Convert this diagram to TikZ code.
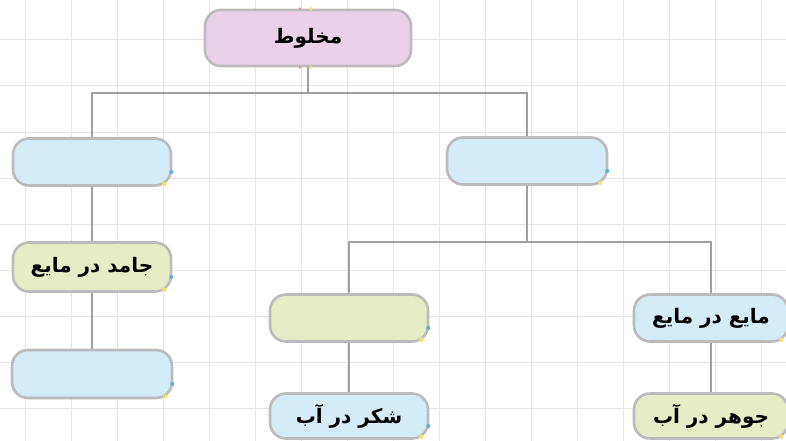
\documentclass[tikz,border=0pt]{standalone}
\usepackage{fontspec}
\usetikzlibrary{calc}
\newfontfamily\arabicfont[Script=Arabic]{DejaVu Sans}
\TeXXeTstate=1
\definecolor{boxpink}{HTML}{EBD1E8}
\definecolor{boxblue}{HTML}{D3ECF8}
\definecolor{boxgreen}{HTML}{E6EDC6}
\definecolor{boxrim}{HTML}{BBBBBB}
\definecolor{wire}{HTML}{A0A0A0}
\definecolor{gridgray}{HTML}{E4E4E4}
\definecolor{dotblue}{HTML}{5AAEE0}
\definecolor{dotyellow}{HTML}{F7DE72}
\tikzset{
	mixbox/.style={draw=boxrim, line width=2.6pt, rounded corners=16pt, minimum width=158pt, minimum height=47pt, inner sep=0pt, font=\arabicfont\bfseries\fontsize{20}{24}\selectfont},
	bluebox/.style={mixbox, fill=boxblue},
	greenbox/.style={mixbox, fill=boxgreen},
	wireline/.style={draw=wire, line width=2.6pt},
	gridline/.style={draw=gridgray, line width=1pt}
}
\begin{document}
\begin{tikzpicture}[x=1pt, y=-1pt]
	\useasboundingbox (0,0) rectangle (786,441);
	\fill[white] (0,0) rectangle (786,441);

	% background grid
	\foreach \x in {25,71,...,761}{
		\draw[gridline] (\x,0) -- (\x,441);
	}
	\foreach \y in {40,86,...,440}{
		\draw[gridline] (0,\y) -- (786,\y);
	}

	% boxes
	\node[mixbox, fill=boxpink, minimum width=206pt, minimum height=56pt] (root) at (308,38) {\beginR مخلوط\endR};

	\node[bluebox] (left1) at (92,162) {};
	\node[bluebox, minimum width=160pt] (right1) at (527,161) {};

	\node[greenbox, minimum height=49pt] (solid) at (92,267) {\beginR جامد در مایع\endR};
	\node[bluebox, minimum width=160pt, minimum height=48pt] (left3) at (92,374) {};

	\node[greenbox] (right2a) at (349,318) {};
	\node[bluebox, minimum width=154pt] (liquid) at (711,318) {\beginR مایع در مایع\endR};

	\node[bluebox, minimum height=45pt] (sugar) at (349,416) {\beginR شکر در آب\endR};
	\node[greenbox, minimum width=154pt, minimum height=45pt] (ink) at (711,416) {\beginR جوهر در آب\endR};

	% connectors
	\coordinate (jroot) at (308,93);
	\coordinate (jright) at (527,242);
	\draw[wireline] (root.south) -- (jroot);
	\draw[wireline] (left1.north) |- (jroot) -| (right1.north);
	\draw[wireline] (left1.south) -- (solid.north);
	\draw[wireline] (solid.south) -- (left3.north);
	\draw[wireline] (right1.south) -- (jright);
	\draw[wireline] (right2a.north) |- (jright) -| (liquid.north);
	\draw[wireline] (right2a.south) -- (sugar.north);
	\draw[wireline] (liquid.south) -- (ink.north);

	% little handle dots
	\foreach \b in {left1,right1,solid,left3,right2a,liquid,sugar,ink}{
		\fill[dotblue] ($(\b.east)+(-1,10)$) circle (2pt);
		\fill[dotyellow] ($(\b.south east)+(-8,-3)$) circle (2.2pt);
	}
	\fill[dotyellow] ($(root.north)+(3,0)$) circle (1.8pt);
	\fill[boxpink!70!red] ($(root.north)+(-8,0)$) circle (1.5pt);
	\fill[dotyellow] ($(root.south)+(3,0)$) circle (1.8pt);
	\fill[boxpink!70!red] ($(root.south)+(-8,0)$) circle (1.5pt);
\end{tikzpicture}
\end{document}
